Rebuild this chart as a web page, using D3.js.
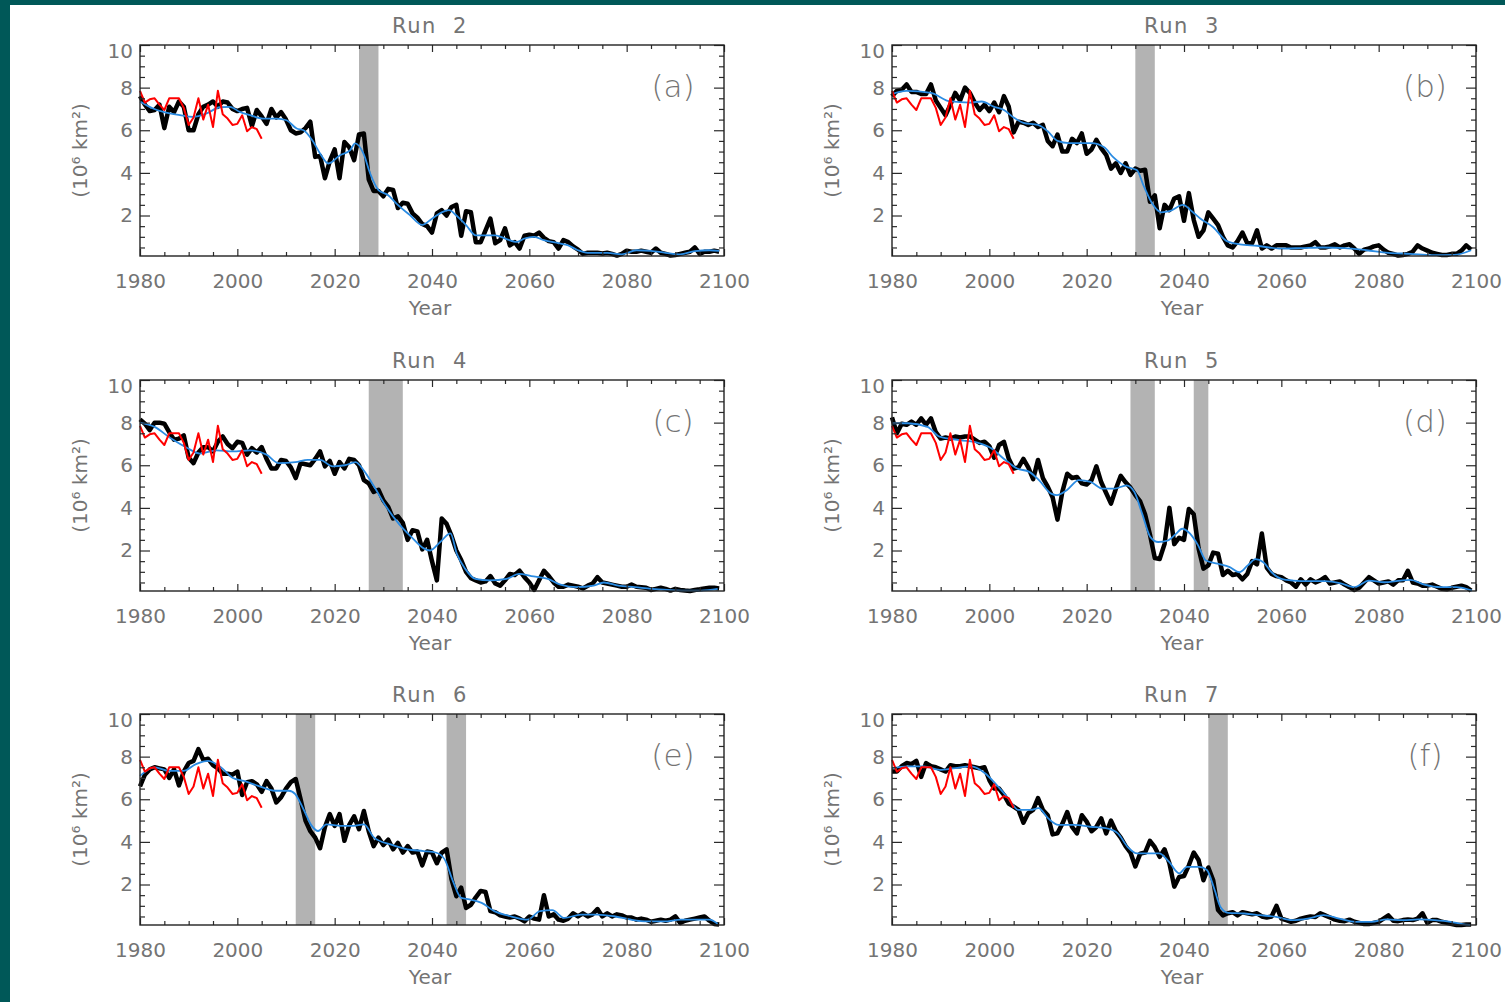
<!DOCTYPE html>
<html>
<head>
<meta charset="utf-8">
<script src="https://cdn.jsdelivr.net/npm/d3@7"></script>
<style>
  body { margin: 0; background: #005858; }
  svg { display: block; }
</style>
</head>
<body>
<svg id="chart" width="1505" height="1002"></svg>
<script>
// Jahre der Simulation und der Beobachtung
const years = d3.range(1980, 2100);
const obsYears = d3.range(1980, 2006);

// Beobachtete Eisausdehnung (rot), in allen Panels gleich
const obsIce = [7.85, 7.3, 7.45, 7.5, 7.2, 6.95, 7.5, 7.5, 7.5, 7.05,
                6.25, 6.6, 7.5, 6.5, 7.2, 6.15, 7.85, 6.75, 6.55, 6.25,
                6.3, 6.7, 5.95, 6.15, 6.05, 5.6];

// Modelllaeufe (schwarz), 1980-2099
const run2Ice = [
  7.6, 7.2, 6.9, 6.95, 7.2, 6.1, 7.1, 6.85, 7.35, 7.1,
  6.0, 6.0, 6.75, 7.1, 7.2, 7.35, 7.1, 7.35, 7.3, 7.0,
  6.9, 7.0, 7.05, 6.2, 6.95, 6.65, 6.3, 7.0, 6.6, 6.85,
  6.5, 6.0, 5.85, 5.9, 6.1, 6.4, 4.75, 4.8, 3.75, 4.55,
  5.1, 3.75, 5.45, 5.2, 4.6, 5.8, 5.85, 3.7, 3.15, 3.15,
  2.9, 3.25, 3.2, 2.35, 2.6, 2.55, 2.1, 1.9, 1.6, 1.5,
  1.2, 2.1, 2.25, 2.0, 2.4, 2.5, 1.05, 2.2, 2.15, 0.75,
  0.75, 1.3, 1.85, 0.7, 0.85, 1.4, 0.6, 0.75, 0.45, 1.05,
  1.1, 1.05, 1.2, 0.95, 0.8, 0.75, 0.45, 0.85, 0.75, 0.55,
  0.4, 0.2, 0.25, 0.25, 0.25, 0.22, 0.25, 0.2, 0.12, 0.2,
  0.35, 0.3, 0.3, 0.35, 0.3, 0.25, 0.45, 0.25, 0.2, 0.12,
  0.15, 0.2, 0.25, 0.3, 0.5, 0.2, 0.3, 0.3, 0.35, 0.3
];
const run3Ice = [
  7.6, 7.85, 7.9, 8.15, 7.8, 7.8, 7.7, 7.7, 8.15, 7.4,
  7.05, 6.7, 7.2, 7.75, 7.4, 8.0, 7.75, 7.3, 6.95, 7.2,
  6.9, 7.3, 6.85, 7.6, 7.1, 5.9, 6.4, 6.35, 6.25, 6.35,
  6.15, 6.25, 5.5, 5.25, 5.8, 5.0, 5.0, 5.6, 5.4, 5.85,
  4.9, 5.1, 5.55, 5.15, 4.85, 4.2, 4.45, 4.0, 4.45, 3.9,
  4.2, 4.1, 4.15, 2.65, 2.95, 1.4, 2.5, 2.25, 2.8, 2.9,
  1.75, 3.05, 1.8, 1.0, 1.3, 2.15, 1.85, 1.55, 1.0, 0.6,
  0.5, 0.8, 1.2, 0.7, 0.7, 1.3, 0.45, 0.6, 0.45, 0.6,
  0.6, 0.6, 0.5, 0.5, 0.5, 0.55, 0.6, 0.75, 0.5, 0.5,
  0.55, 0.65, 0.5, 0.6, 0.65, 0.45, 0.2, 0.4, 0.45, 0.55,
  0.6, 0.4, 0.25, 0.2, 0.12, 0.15, 0.2, 0.3, 0.6, 0.45,
  0.35, 0.25, 0.2, 0.15, 0.15, 0.2, 0.2, 0.35, 0.6, 0.4
];
const run4Ice = [
  8.15, 7.95, 7.65, 8.0, 8.0, 7.95, 7.55, 7.2, 7.25, 7.4,
  6.35, 6.1, 6.6, 6.85, 6.85, 6.65, 7.1, 7.35, 7.0, 6.8,
  7.1, 7.05, 6.5, 6.8, 6.6, 6.85, 6.3, 5.85, 5.85, 6.25,
  6.2, 5.9, 5.4, 6.1, 6.05, 6.0, 6.3, 6.65, 5.95, 6.2,
  5.6, 6.15, 5.85, 6.3, 6.25, 6.0, 5.3, 5.15, 4.75, 4.85,
  4.35, 4.05, 3.5, 3.6, 3.3, 2.5, 2.95, 2.9, 2.05, 2.5,
  1.5, 0.6, 3.5, 3.25, 2.7, 2.0, 1.55, 1.0, 0.7, 0.6,
  0.5, 0.55, 0.8, 0.45, 0.35, 0.6, 0.9, 0.85, 1.05, 0.75,
  0.5, 0.15, 0.6, 1.05, 0.8, 0.5, 0.3, 0.3, 0.4, 0.35,
  0.3, 0.22, 0.35, 0.45, 0.75, 0.5, 0.45, 0.4, 0.35, 0.3,
  0.3, 0.4, 0.3, 0.28, 0.25, 0.15, 0.2, 0.25, 0.2, 0.12,
  0.2, 0.15, 0.12, 0.1, 0.15, 0.18, 0.22, 0.25, 0.25, 0.22
];
const run5Ice = [
  8.25, 7.5, 7.95, 7.9, 8.05, 7.9, 8.2, 7.9, 8.2, 7.55,
  7.25, 7.3, 7.25, 7.35, 7.3, 7.35, 7.35, 7.2, 7.05, 7.1,
  6.9, 6.35, 6.95, 7.1, 6.3, 5.85, 5.9, 6.3, 5.9, 5.35,
  6.25, 5.4, 5.0, 4.5, 3.45, 4.75, 5.6, 5.4, 5.45, 5.15,
  5.1, 5.3, 5.95, 5.2, 4.7, 4.2, 4.9, 5.5, 5.2, 4.95,
  4.6, 4.3, 3.7, 2.75, 1.65, 1.6, 2.3, 4.0, 2.3, 2.6,
  2.5, 3.95, 3.7, 2.1, 1.15, 1.3, 1.9, 1.85, 0.85, 1.05,
  0.85, 0.9, 0.65, 0.9, 1.5, 1.35, 2.8, 1.2, 0.9, 0.8,
  0.75, 0.6, 0.5, 0.3, 0.65, 0.4, 0.65, 0.5, 0.6, 0.75,
  0.45, 0.5, 0.55, 0.4, 0.28, 0.15, 0.25, 0.5, 0.75, 0.6,
  0.45, 0.5, 0.55, 0.4, 0.6, 0.6, 1.05, 0.5, 0.45, 0.35,
  0.35, 0.4, 0.3, 0.2, 0.18, 0.25, 0.3, 0.35, 0.28, 0.12
];
const run6Ice = [
  6.6, 7.15, 7.4, 7.5, 7.45, 7.4, 7.0, 7.4, 6.65, 7.3,
  7.7, 7.8, 8.35, 7.85, 7.9, 7.6, 7.45, 7.2, 7.2, 7.15,
  7.3, 6.2, 6.8, 6.85, 6.7, 6.35, 6.85, 6.5, 5.85, 6.1,
  6.5, 6.8, 6.95, 6.0, 5.0, 4.5, 4.2, 3.7, 4.7, 5.3,
  4.75, 5.3, 4.05, 4.8, 5.2, 4.6, 5.45, 4.5, 3.8, 4.2,
  3.85, 4.1, 3.65, 3.95, 3.5, 3.8, 3.5, 3.55, 2.9, 3.55,
  3.5, 3.0, 3.5, 3.65, 2.25, 1.45, 1.85, 0.9, 1.05, 1.4,
  1.7, 1.65, 0.75, 0.7, 0.55, 0.5, 0.45, 0.5, 0.4, 0.27,
  0.5, 0.4, 0.35, 1.5, 0.5, 0.6, 0.35, 0.3, 0.4, 0.65,
  0.5, 0.65, 0.5, 0.6, 0.85, 0.5, 0.65, 0.5, 0.6, 0.55,
  0.45, 0.45, 0.35, 0.4, 0.35, 0.25, 0.3, 0.35, 0.3, 0.35,
  0.5, 0.2, 0.3, 0.35, 0.4, 0.45, 0.5, 0.3, 0.15, 0.12
];
const run7Ice = [
  7.3, 7.3, 7.55, 7.7, 7.65, 7.8, 7.05, 7.7, 7.55, 7.5,
  7.4, 7.3, 7.6, 7.55, 7.55, 7.6, 7.55, 7.5, 7.45, 7.5,
  6.9, 6.5, 6.5, 6.2, 5.8, 5.65, 5.5, 4.9, 5.35, 5.5,
  6.05, 5.5, 5.25, 4.35, 4.4, 4.85, 5.4, 4.7, 4.4, 5.25,
  4.95, 4.5, 4.7, 5.1, 4.4, 5.0, 4.5, 4.2, 3.8, 3.5,
  2.85, 3.45, 3.5, 4.05, 3.75, 3.3, 3.65, 3.0, 1.9, 2.35,
  2.4, 2.9, 3.5, 3.15, 2.2, 2.8, 2.2, 0.8, 0.55, 0.65,
  0.7, 0.55, 0.7, 0.65, 0.6, 0.65, 0.5, 0.45, 0.5, 1.0,
  0.4, 0.33, 0.25, 0.3, 0.4, 0.45, 0.5, 0.48, 0.65, 0.55,
  0.45, 0.35, 0.3, 0.28, 0.35, 0.25, 0.2, 0.15, 0.15, 0.2,
  0.25, 0.4, 0.55, 0.3, 0.28, 0.33, 0.36, 0.33, 0.4, 0.65,
  0.2, 0.33, 0.33, 0.25, 0.2, 0.14, 0.1, 0.1, 0.12, 0.12
];

// Geglaettete Kurven (blau), [Jahr, Wert]
const run2Smooth = [[1980,7.35],[1982.7,7.02],[1984.8,6.86],[1988.2,6.71],[1991,6.63],[1993.7,6.79],[1996.4,7.08],[1998.5,7.1],[2000.5,6.86],[2002.6,6.71],[2005.3,6.55],[2008.1,6.55],[2010.1,6.47],[2012.2,6.08],[2013.6,6.0],[2015.6,5.46],[2017,4.91],[2018.7,4.44],[2021.1,4.83],[2023.2,5.07],[2024.2,5.38],[2025.9,4.91],[2027.3,3.97],[2029,3.19],[2031,2.95],[2032.7,2.56],[2035.5,2.01],[2038,1.56],[2040,1.85],[2042,2.15],[2043.5,2.25],[2045,2.0],[2047,1.55],[2049,1.07],[2051,1.07],[2053,1.07],[2055,0.92],[2057.5,0.76],[2059,0.92],[2061,1.0],[2063,0.84],[2066,0.7],[2068,0.6],[2070,0.37],[2072,0.25],[2076,0.25],[2079,0.18],[2082,0.37],[2085,0.34],[2088,0.25],[2091,0.18],[2094,0.33],[2097,0.37],[2099,0.34]];
const run3Smooth = [[1980,7.7],[1983,7.85],[1988,7.75],[1992,7.35],[1996,7.3],[1998.4,7.35],[2001,7.1],[2003,6.95],[2005,6.6],[2007,6.35],[2010,6.25],[2012,5.95],[2014,5.5],[2016.4,5.4],[2021,5.4],[2023.6,5.2],[2025.4,4.75],[2028,4.3],[2030.3,4.13],[2031.7,3.4],[2033.5,2.55],[2035.3,2.15],[2037,2.2],[2039.8,2.5],[2041.6,2.2],[2043.4,1.85],[2046,1.45],[2048.8,0.8],[2051.5,0.65],[2055,0.58],[2059.6,0.45],[2064,0.47],[2068.5,0.5],[2073,0.47],[2077.5,0.37],[2082,0.25],[2086.5,0.2],[2091,0.14],[2095.5,0.15],[2099,0.37]];
const run4Smooth = [[1980,8.0],[1983,7.8],[1986.4,7.25],[1989.8,6.8],[1992.3,6.55],[1995.7,6.7],[1999.1,6.65],[2002.6,6.7],[2006,6.5],[2008.5,6.1],[2011.9,6.15],[2014.5,6.25],[2017,6.25],[2019.6,5.95],[2022.1,6.0],[2024.3,6.15],[2026,5.75],[2028.1,5.0],[2030.6,4.05],[2033.2,3.25],[2035.7,2.65],[2038.3,2.1],[2039.6,2.0],[2041.7,2.4],[2043.8,2.8],[2045.1,1.85],[2046.8,1.15],[2048.9,0.67],[2051.9,0.6],[2055.3,0.67],[2057.9,0.9],[2060.4,0.8],[2063.8,0.67],[2066.4,0.4],[2069.8,0.28],[2073.2,0.35],[2075.3,0.5],[2078.3,0.35],[2081.7,0.28],[2085.1,0.2],[2088.5,0.15],[2091.9,0.12],[2095.3,0.12],[2098.7,0.2]];
const run5Smooth = [[1980,7.97],[1983.3,7.97],[1987.3,7.8],[1989.8,7.34],[1993.9,7.18],[1998,7.03],[2000.4,6.8],[2002.9,6.32],[2005.7,5.85],[2008.2,5.69],[2010.2,5.3],[2012.7,4.67],[2013.9,4.6],[2015.9,4.83],[2018.4,5.3],[2020.8,5.22],[2023.3,4.9],[2025.7,4.9],[2028.2,5.06],[2029.8,4.75],[2031.4,3.73],[2033.1,2.63],[2034.7,2.4],[2036.7,2.47],[2038.4,2.79],[2039.6,3.02],[2041.2,2.8],[2042.9,2.24],[2044.5,1.53],[2046.9,1.38],[2049.4,1.22],[2051.4,0.98],[2053.1,1.3],[2054.7,1.6],[2056.3,1.45],[2058,0.98],[2060,0.67],[2062.4,0.59],[2065.7,0.56],[2069,0.56],[2072.2,0.46],[2075.1,0.28],[2078,0.59],[2081.2,0.51],[2084.5,0.59],[2086.5,0.62],[2089.4,0.4],[2092.7,0.28],[2095.9,0.28],[2099.2,0.12]];
const run6Smooth = [[1980,7.1],[1983,7.5],[1986,7.33],[1988.9,7.33],[1991.5,7.65],[1994,7.8],[1996.6,7.5],[1999.1,7.0],[2001.3,6.86],[2004.3,6.63],[2007.7,6.4],[2010.6,6.4],[2011.9,6.24],[2013.6,5.53],[2015.3,4.75],[2016.6,4.51],[2018.3,4.82],[2021.3,4.75],[2023.8,4.75],[2026,4.82],[2028.1,4.2],[2031.5,3.88],[2034.9,3.65],[2038.3,3.57],[2040.9,3.49],[2042.6,3.18],[2044.3,2.16],[2046,1.37],[2047.7,1.3],[2050.2,1.14],[2052.8,0.75],[2056.2,0.51],[2059.6,0.35],[2062.2,0.75],[2064.7,0.8],[2067.2,0.43],[2070.6,0.59],[2074,0.59],[2077.4,0.51],[2080.9,0.35],[2084.3,0.27],[2087.7,0.27],[2091.1,0.35],[2094.5,0.35],[2097,0.35],[2098.7,0.16]];
const run7Smooth = [[1980,7.46],[1983.3,7.54],[1986.5,7.54],[1989.8,7.38],[1993,7.46],[1996.3,7.54],[1999.1,7.22],[2001.2,6.75],[2003.6,6.13],[2006,5.5],[2008.5,5.5],[2010.1,5.58],[2012.1,5.1],[2014.2,4.8],[2017.4,4.8],[2020.7,4.71],[2023.9,4.64],[2026.4,4.4],[2028.4,3.77],[2030.4,3.46],[2032.9,3.46],[2034.9,3.46],[2036.9,3.07],[2039,2.52],[2040.6,2.83],[2043.1,2.83],[2044.7,2.68],[2046.3,1.74],[2047.5,0.95],[2049.1,0.67],[2052.4,0.64],[2055.6,0.56],[2058.9,0.48],[2062.2,0.33],[2065.4,0.4],[2068.7,0.56],[2071.9,0.4],[2075.2,0.25],[2078.5,0.25],[2081.7,0.36],[2085,0.33],[2088.3,0.36],[2091.5,0.33],[2094.8,0.25],[2097.2,0.14],[2098.8,0.1]];

// Graue Phasen schnellen Eisrueckgangs [von, bis]
const run2Bands = [[2025, 2029]];
const run3Bands = [[2030, 2034]];
const run4Bands = [[2027, 2034]];
const run5Bands = [[2029, 2034], [2042, 2045]];
const run6Bands = [[2012, 2016], [2043, 2047]];
const run7Bands = [[2045, 2049]];

// Achsenbeschriftung
const titles = ['Run  2', 'Run  3', 'Run  4', 'Run  5', 'Run  6', 'Run  7'];
const tags = ['(a)', '(b)', '(c)', '(d)', '(e)', '(f)'];
const xMajor = [1980, 2000, 2020, 2040, 2060, 2080, 2100];
const xMinor = d3.range(1985, 2100, 5).filter(d => d % 20 !== 0);
const yMajor = [2, 4, 6, 8, 10];
const yMinor = d3.range(0.5, 10, 0.5).filter(d => d % 2 !== 0);

const panels = [
  { ice: run2Ice, smooth: run2Smooth, bands: run2Bands },
  { ice: run3Ice, smooth: run3Smooth, bands: run3Bands },
  { ice: run4Ice, smooth: run4Smooth, bands: run4Bands },
  { ice: run5Ice, smooth: run5Smooth, bands: run5Bands },
  { ice: run6Ice, smooth: run6Smooth, bands: run6Bands },
  { ice: run7Ice, smooth: run7Smooth, bands: run7Bands }
];

const FONT = 'DejaVu Sans';
const TEXT = '#747474';
const W = 584, H = 211;
const colLeft = [140, 892];
const rowTop = [45, 380, 714];

const svg = d3.select('#chart');

// weisser Hintergrund mit Rand
svg.append('rect')
  .attr('x', 10).attr('y', 5)
  .attr('width', 1495).attr('height', 997)
  .attr('fill', '#fff');

panels.forEach((p, i) => drawPanel(p, i));

function styleAxis(sel) {
  sel.select('.domain').remove();
  sel.selectAll('line').attr('stroke', '#2a2a2a').attr('stroke-width', 1.2);
  sel.selectAll('text')
    .attr('fill', TEXT)
    .style('font-family', FONT)
    .style('font-size', '20px');
}

function drawPanel(p, i) {
  const left = colLeft[i % 2];
  const top = rowTop[Math.floor(i / 2)];
  const g = svg.append('g').attr('transform', `translate(${left},${top})`);

  const x = d3.scaleLinear().domain([1980, 2100]).range([0, W]);
  const y = d3.scaleLinear().domain([0.1, 10]).range([H, 0]);

  // Phasen
  g.selectAll('.band')
    .data(p.bands)
    .enter()
    .append('rect')
    .attr('x', d => x(d[0]))
    .attr('width', d => x(d[1]) - x(d[0]))
    .attr('y', 0)
    .attr('height', H)
    .attr('fill', '#b3b3b3');

  // Modelllauf
  const line = d3.line()
    .x((d, k) => x(years[k]))
    .y(d => y(d));
  g.append('path')
    .datum(p.ice)
    .attr('d', line)
    .attr('fill', 'none')
    .attr('stroke', '#000')
    .attr('stroke-width', 4.5)
    .attr('stroke-linejoin', 'round');

  // geglaettet
  g.append('path')
    .datum(p.smooth)
    .attr('d', d3.line().x(d => x(d[0])).y(d => y(d[1])).curve(d3.curveMonotoneX))
    .attr('fill', 'none')
    .attr('stroke', '#2a8be2')
    .attr('stroke-width', 1.8);

  // Beobachtung
  g.append('path')
    .datum(obsIce)
    .attr('d', d3.line().x((d, k) => x(obsYears[k])).y(d => y(d)))
    .attr('fill', 'none')
    .attr('stroke', '#ff0000')
    .attr('stroke-width', 2)
    .attr('stroke-linejoin', 'round');

  // Achsen
  g.append('g')
    .attr('transform', `translate(0,${H})`)
    .call(d3.axisBottom(x).tickValues(xMajor).tickFormat(d3.format('d'))
      .tickSizeInner(-7).tickSizeOuter(0).tickPadding(18))
    .call(styleAxis);
  g.append('g')
    .attr('transform', `translate(0,${H})`)
    .call(d3.axisBottom(x).tickValues(xMinor).tickFormat('').tickSize(-4))
    .call(styleAxis);
  g.append('g')
    .call(d3.axisTop(x).tickValues(xMajor).tickFormat('').tickSize(-7))
    .call(styleAxis);
  g.append('g')
    .call(d3.axisTop(x).tickValues(xMinor).tickFormat('').tickSize(-4))
    .call(styleAxis);

  const yAxis = g.append('g')
    .call(d3.axisLeft(y).tickValues(yMajor).tickFormat(d3.format('d'))
      .tickSizeInner(-10).tickSizeOuter(0).tickPadding(7))
    .call(styleAxis);
  yAxis.selectAll('.tick').filter(d => d === 10).select('text').attr('y', 6);
  g.append('g')
    .call(d3.axisLeft(y).tickValues(yMinor).tickFormat('').tickSize(-5))
    .call(styleAxis);
  g.append('g')
    .attr('transform', `translate(${W},0)`)
    .call(d3.axisRight(y).tickValues(yMajor).tickFormat('').tickSize(-10))
    .call(styleAxis);
  g.append('g')
    .attr('transform', `translate(${W},0)`)
    .call(d3.axisRight(y).tickValues(yMinor).tickFormat('').tickSize(-5))
    .call(styleAxis);

  // Rahmen
  g.append('rect')
    .attr('width', W).attr('height', H)
    .attr('fill', 'none')
    .attr('stroke', '#222')
    .attr('stroke-width', 1.4);

  // Titel
  g.append('text')
    .attr('x', W / 2 - 2)
    .attr('y', -12)
    .attr('text-anchor', 'middle')
    .attr('fill', TEXT)
    .style('font-family', FONT)
    .style('font-size', '21px')
    .style('letter-spacing', '1.5px')
    .style('white-space', 'pre')
    .text(titles[i]);

  // Panelkennung
  g.append('text')
    .attr('x', W - 51)
    .attr('y', 52)
    .attr('text-anchor', 'middle')
    .attr('fill', TEXT)
    .style('font-family', FONT)
    .style('font-size', '31px')
    .style('font-weight', '300')
    .text(tags[i]);

  // Achsentitel
  g.append('text')
    .attr('x', W / 2 - 2)
    .attr('y', H + 59)
    .attr('text-anchor', 'middle')
    .attr('fill', TEXT)
    .style('font-family', FONT)
    .style('font-size', '20px')
    .text('Year');

  g.append('text')
    .attr('transform', `translate(-60,${H / 2}) rotate(-90)`)
    .attr('text-anchor', 'middle')
    .attr('dy', '0.35em')
    .attr('fill', TEXT)
    .style('font-family', FONT)
    .style('font-size', '20px')
    .text('(10\u2076 km\u00b2)');
}
</script>
</body>
</html>
